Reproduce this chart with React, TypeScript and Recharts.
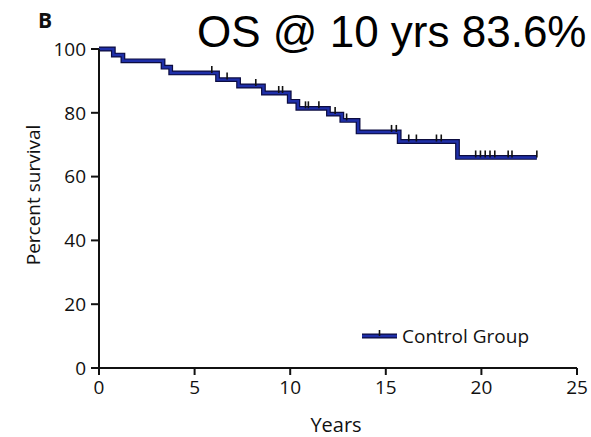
import { ComposedChart, Line, Scatter, XAxis, YAxis } from "recharts";

// Kaplan-Meier steps: time of each drop (years) and survival after it (%)
const stepYears = [0, 0.75, 1.25, 3.35, 3.75, 6.2, 7.3, 8.6, 9.95, 10.4, 12.0, 12.7, 13.55, 15.7, 18.75, 22.9];
const stepPercent = [100, 98.1, 96.3, 94.3, 92.5, 90.4, 88.4, 86.2, 83.6, 81.4, 79.6, 77.6, 74.0, 71.0, 66.0, 66.0];

// censored observations (years)
const censorYears = [
  5.9, 6.7, 8.2, 9.4, 9.6, 10.8, 10.95, 11.5, 12.35, 12.95, 15.3, 15.55, 16.2, 16.6,
  17.65, 17.9, 19.7, 19.95, 20.2, 20.45, 20.7, 21.4, 21.6, 22.9,
];

const xTicks = [0, 5, 10, 15, 20, 25];
const yTicks = [0, 20, 40, 60, 80, 100];

const font = '"Open Sans", sans-serif';
const ink = "#111";

const percentAt = (t: number) => {
  let p = stepPercent[0];
  stepYears.forEach((y, i) => {
    if (y <= t) p = stepPercent[i];
  });
  return p;
};

const curve = stepYears.map((year, i) => ({ year, percent: stepPercent[i] }));
const censored = censorYears.map((year) => ({ year, percent: percentAt(year) }));

const CensorTick = (props: any) => {
  const { cx, cy } = props;
  return <line x1={cx} x2={cx} y1={cy - 7} y2={cy} stroke={ink} strokeWidth={1.6} />;
};

const axisStyle = { stroke: ink, strokeWidth: 2 };
const tickStyle = { fill: ink, fontSize: 19, fontFamily: font };

export default function App() {
  return (
    <div style={{ position: "absolute", left: 0, top: 0, width: 591, height: 437, background: "#fff" }}>
      <ComposedChart width={591} height={437} margin={{ top: 49, right: 14, bottom: 0, left: 0 }}>
        <XAxis
          dataKey="year"
          type="number"
          domain={[0, 25]}
          ticks={xTicks}
          height={69}
          axisLine={axisStyle}
          tickLine={axisStyle}
          tickSize={7}
          tickMargin={6}
          tick={tickStyle}
          allowDataOverflow
        />
        <YAxis
          dataKey="percent"
          type="number"
          domain={[0, 100]}
          ticks={yTicks}
          width={99}
          axisLine={axisStyle}
          tickLine={axisStyle}
          tickSize={8}
          tickMargin={5}
          tick={tickStyle}
        />
        <Line
          data={curve}
          dataKey="percent"
          type="stepAfter"
          stroke="#0c0c40"
          strokeWidth={4.8}
          dot={false}
          isAnimationActive={false}
        />
        <Line
          data={curve}
          dataKey="percent"
          type="stepAfter"
          stroke="#1f2fa8"
          strokeWidth={2.4}
          dot={false}
          isAnimationActive={false}
        />
        <Scatter data={censored} dataKey="percent" shape={CensorTick} isAnimationActive={false} />
      </ComposedChart>

      <svg width={591} height={437} style={{ position: "absolute", left: 0, top: 0, pointerEvents: "none" }}>
        <text x={38} y={28} fontFamily={font} fontWeight={700} fontSize={21} fill={ink}>
          B
        </text>
        <text x={197} y={47} fontFamily='"Liberation Sans", Arial, sans-serif' fontSize={44} fill="#000">
          OS @ 10 yrs 83.6%
        </text>
        <text
          x={40}
          y={195}
          transform="rotate(-90 40 195)"
          textAnchor="middle"
          fontFamily={font}
          fontSize={19}
          fill={ink}
        >
          Percent survival
        </text>
        <text x={336} y={432} textAnchor="middle" fontFamily={font} fontSize={20} fill={ink}>
          Years
        </text>
        {/* legend */}
        <line x1={362} x2={397} y1={336} y2={336} stroke="#0c0c40" strokeWidth={4.8} />
        <line x1={362} x2={397} y1={336} y2={336} stroke="#1f2fa8" strokeWidth={2.4} />
        <line x1={379.5} x2={379.5} y1={330} y2={336} stroke={ink} strokeWidth={1.6} />
        <text x={402} y={343} fontFamily={font} fontSize={19} fill={ink}>
          Control Group
        </text>
      </svg>
    </div>
  );
}
